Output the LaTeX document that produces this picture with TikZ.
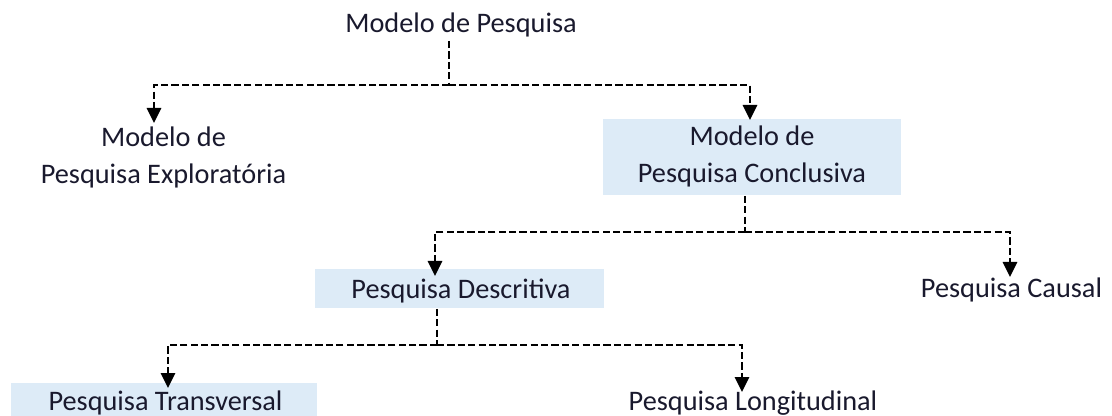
\documentclass[tikz,border=0pt]{standalone}
\usepackage{fontspec}
\setmainfont{Carlito}
\usetikzlibrary{arrows.meta,calc}
\definecolor{txt}{RGB}{25,25,45}
\definecolor{boxfill}{RGB}{221,235,247}
\begin{document}
\begin{tikzpicture}[x=0.5pt,y=-0.5pt,
  lbl/.style={inner sep=0pt,font=\fontsize{14.15pt}{18.5pt}\selectfont,text=txt,align=center,anchor=base},
  bx/.style={fill=boxfill,draw=none,inner sep=0pt,anchor=north west},
  conn/.style={draw=black,line width=1.35pt,dash pattern=on 3.6pt off 1.6pt},
  arr/.style={conn,-{Triangle[length=7.5pt,width=7pt]}}]
\useasboundingbox (0,0) rectangle (1112,416);
% boxes
\node[bx,minimum width=149pt,minimum height=38pt] (boxC) at (603,119) {};
\node[bx,minimum width=144.5pt,minimum height=19.5pt] (boxD) at (315,269) {};
\node[bx,minimum width=153pt,minimum height=20pt] (boxT) at (10.7,383) {};
% labels (base anchor = baseline of the last line)
\node[lbl] (top) at (461,33) {Modelo de Pesquisa};
\node[lbl] (explor) at (163.5,184) {Modelo de\\Pesquisa Exploratória};
\node[lbl] (concl) at (752,183) {Modelo de\\Pesquisa Conclusiva};
\node[lbl] (desc) at (461,298.5) {Pesquisa Descritiva};
\node[lbl] (causal) at (1011.5,298) {Pesquisa Causal};
\node[lbl] (transv) at (165.5,410) {Pesquisa Transversal};
\node[lbl] (longi) at (753,410) {Pesquisa Longitudinal};
% junctions and arrow tips
\coordinate (j1) at (449,85);
\coordinate (j2) at (745,232);
\coordinate (j3) at (437,345);
\coordinate (tE) at (154,123);
\coordinate (tC) at (750,120);
\coordinate (tD) at (435,276);
\coordinate (tCa) at (1010,277);
\coordinate (tT) at (168,388);
\coordinate (tL) at (742,392);
% connectors
\draw[conn,shorten <=1.5pt] (top.south -| j1) -- (j1);
\draw[arr] (j1) -| (tE);
\draw[arr] (j1) -| (tC);
\draw[conn] (boxC.south -| j2) -- (j2);
\draw[arr] (j2) -| (tD);
\draw[arr] (j2) -| (tCa);
\draw[conn] (boxD.south -| j3) -- (j3);
\draw[arr] (j3) -| (tT);
\draw[arr] (j3) -| (tL);
\end{tikzpicture}
\end{document}
